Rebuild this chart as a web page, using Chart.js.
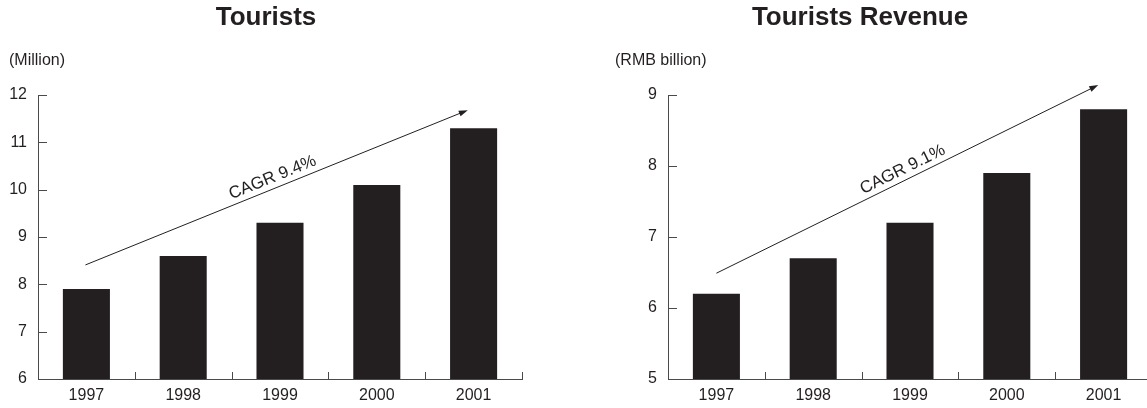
<!DOCTYPE html>
<html>
<head>
<meta charset="utf-8">
<script src="https://cdn.jsdelivr.net/npm/chart.js@4/dist/chart.umd.min.js"></script>
<style>
  html, body { margin: 0; padding: 0; background: #fff; }
  body { width: 1147px; height: 408px; position: relative; overflow: hidden; }
  .box { position: absolute; top: 0; }
</style>
</head>
<body>
<div class="box" style="left:0px"><canvas id="t_stage" width="573" height="408"></canvas></div>
<div class="box" style="left:580px"><canvas id="r_stage" width="620" height="408"></canvas></div>
<script>
const years = ['1997', '1998', '1999', '2000', '2001'];
const tourists = [7.9, 8.6, 9.3, 10.1, 11.3];
const revenue = [6.2, 6.7, 7.2, 7.9, 8.8];
const touristsTicks = [6, 12];   // min, max
const revenueTicks = [5, 9];
// arrow ends in data units [category index, value]
const touristsArrow = [[-0.01, 8.41], [3.94, 11.68]];
const revenueArrow = [[0, 6.49], [3.945, 9.14]];
const touristsCagr = 'CAGR 9.4%';
const revenueCagr = 'CAGR 9.1%';

const ink = '#231f20';
const axisGray = '#4a4a4a';
const fontFam = '"Liberation Sans", Arial, Helvetica, sans-serif';

// titles, units, inward ticks and cagr arrow
const decoPlugin = {
    id: 'deco',
    afterDraw(chart) {
        const o = chart.options.plugins.deco;
        const ctx = chart.ctx;
        const xs = chart.scales.x;
        const ys = chart.scales.y;
        const area = chart.chartArea;
        ctx.save();
        ctx.fillStyle = ink;
        ctx.font = 'bold 26px ' + fontFam;
        ctx.textAlign = 'center';
        ctx.textBaseline = 'middle';
        ctx.fillText(o.title, o.titleX, 18);
        ctx.font = '16px ' + fontFam;
        ctx.textAlign = 'left';
        ctx.fillText(o.unit, o.unitX, 61);

        ctx.strokeStyle = axisGray;
        ctx.lineWidth = 1;
        ctx.beginPath();
        ys.ticks.forEach(function(t) {
            var y = Math.round(ys.getPixelForValue(t.value)) + 0.5;
            ctx.moveTo(area.left, y);
            ctx.lineTo(area.left + 9, y);
        });
        for (var i = 1; i <= years.length; ++i) {
            var x = Math.round(xs.getPixelForValue(i - 0.5)) + 0.5;
            ctx.moveTo(x, area.bottom);
            ctx.lineTo(x, area.bottom - 7);
        }
        ctx.stroke();

        var x0 = xs.getPixelForValue(o.arrow[0][0]);
        var y0 = ys.getPixelForValue(o.arrow[0][1]);
        var x1 = xs.getPixelForValue(o.arrow[1][0]);
        var y1 = ys.getPixelForValue(o.arrow[1][1]);
        var ang = Math.atan2(y1 - y0, x1 - x0);
        ctx.strokeStyle = ink;
        ctx.beginPath();
        ctx.moveTo(x0, y0);
        ctx.lineTo(x1 - 6 * Math.cos(ang), y1 - 6 * Math.sin(ang));
        ctx.stroke();
        ctx.beginPath();
        ctx.moveTo(x1, y1);
        ctx.lineTo(x1 - 9 * Math.cos(ang) + 3 * Math.sin(ang), y1 - 9 * Math.sin(ang) - 3 * Math.cos(ang));
        ctx.lineTo(x1 - 9 * Math.cos(ang) - 3 * Math.sin(ang), y1 - 9 * Math.sin(ang) + 3 * Math.cos(ang));
        ctx.closePath();
        ctx.fill();

        var tx = x0 + (x1 - x0) * 0.5;
        var ty = y0 + (y1 - y0) * 0.5;
        ctx.translate(tx, ty);
        ctx.rotate(ang);
        ctx.font = '17px ' + fontFam;
        ctx.textAlign = 'center';
        ctx.textBaseline = 'alphabetic';
        ctx.fillText(o.cagr, 0, -6);
        ctx.restore();
    }
};

function makeChart(canvas, values, range, deco, padLeft, padRight) {
    return new Chart(canvas, {
        type: 'bar',
        data: {
            labels: years,
            datasets: [{
                data: values,
                backgroundColor: ink,
                categoryPercentage: 1,
                barPercentage: 0.486
            }]
        },
        options: {
            responsive: false,
            animation: false,
            layout: { padding: { left: padLeft, right: padRight, top: 95, bottom: 0 } },
            plugins: {
                legend: { display: false },
                tooltip: { enabled: false },
                deco: deco
            },
            scales: {
                x: {
                    grid: { display: false, drawTicks: false },
                    border: { color: axisGray, width: 1 },
                    ticks: { color: ink, font: { family: fontFam, size: 16 }, padding: 7, maxRotation: 0 },
                    afterFit: function(s) { s.height = 29; }
                },
                y: {
                    min: range[0],
                    max: range[1],
                    grid: { display: false, drawTicks: false },
                    border: { color: axisGray, width: 1 },
                    ticks: { stepSize: 1, color: ink, font: { family: fontFam, size: 16 }, padding: 11 },
                    afterFit: function(s) { s.width = 38; }
                }
            }
        },
        plugins: [decoPlugin]
    });
}

window.addEventListener('DOMContentLoaded', () => {
    makeChart(document.getElementById('t_stage'), tourists, touristsTicks,
        { title: 'Tourists', titleX: 266, unit: '(Million)', unitX: 9, arrow: touristsArrow, cagr: touristsCagr }, 0, 51);
    makeChart(document.getElementById('r_stage'), revenue, revenueTicks,
        { title: 'Tourists Revenue', titleX: 280, unit: '(RMB billion)', unitX: 35, arrow: revenueArrow, cagr: revenueCagr }, 50, 48);
});
</script>
</body>
</html>
